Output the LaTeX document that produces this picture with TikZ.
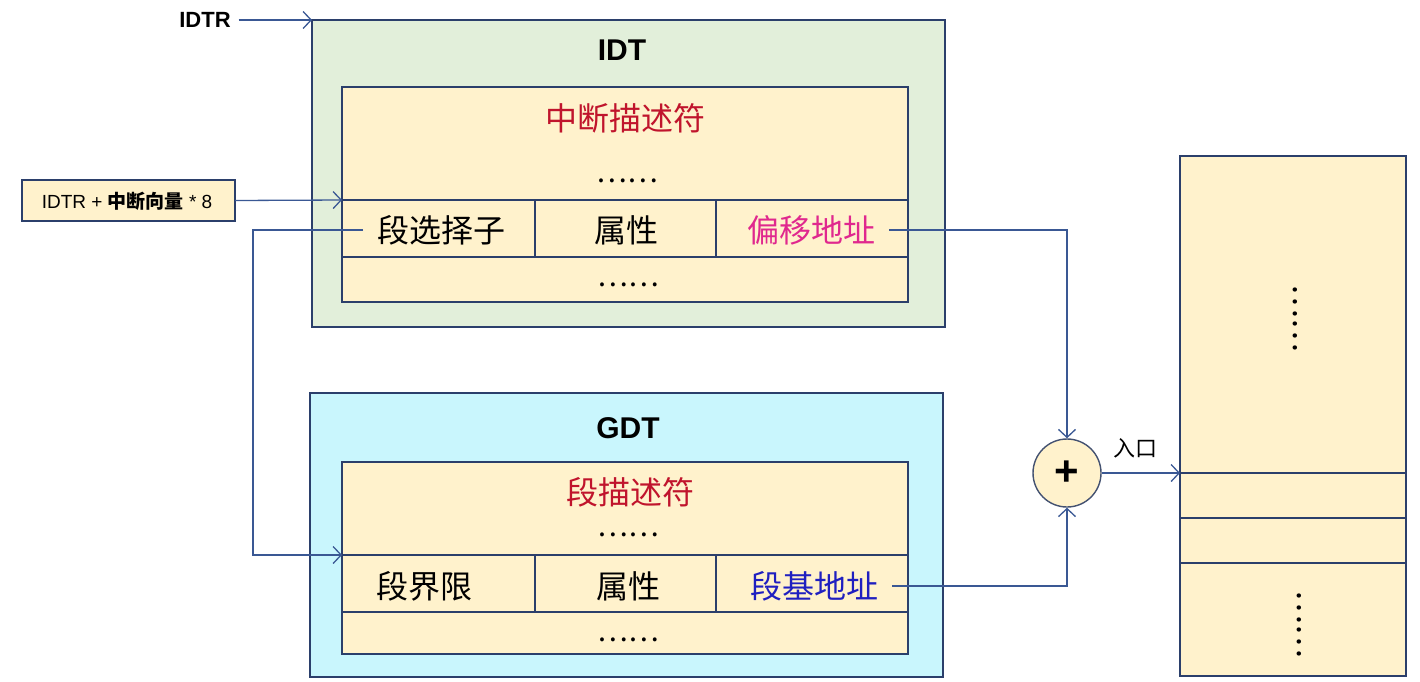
\documentclass[tikz,border=0pt]{standalone}
\usepackage{fontspec}
\setmainfont{Liberation Sans}
\newfontfamily\cjk{Noto Sans CJK SC}
\usetikzlibrary{arrows.meta}
\definecolor{bordc}{HTML}{2B3F6B}
\definecolor{linec}{HTML}{3A5894}
\definecolor{greenf}{HTML}{E2EFDA}
\definecolor{cyanf}{HTML}{C9F6FD}
\definecolor{yelf}{HTML}{FFF2CC}
\definecolor{redt}{HTML}{C0142C}
\definecolor{magt}{HTML}{E0288E}
\definecolor{bluet}{HTML}{1F1FC0}
\begin{document}
\begin{tikzpicture}[x=1pt,y=-1pt,
  box/.style={draw=bordc,line width=1.5pt,inner sep=0pt,outer sep=0pt,anchor=north west},
  arr/.style={draw=linec,line width=1.3pt,-{Straight Barb[length=8pt,width=17pt,line width=1.3pt]}},
  cn/.style={font=\cjk\fontsize{32}{36}\selectfont,inner sep=0pt,outer sep=8pt},
  dots/.style={font=\cjk\fontsize{29}{32}\selectfont,inner sep=0pt},
  title/.style={font=\bfseries\fontsize{30}{34}\selectfont,inner sep=0pt}]
\useasboundingbox (0,0) rectangle (1420,681);
\fill[white] (0,0) rectangle (1420,681);
% IDT
\node[box,fill=greenf,minimum width=633pt,minimum height=307pt] (idt) at (312,20) {};
\node[title] (idtt) at (622,50) {IDT};
\node[box,fill=yelf,minimum width=566pt,minimum height=215pt] (idtin) at (342,87) {};
\node[box,minimum width=193pt,minimum height=57pt] (c1) at (342,200) {};
\node[box,minimum width=181pt,minimum height=57pt] (c2) at (535,200) {};
\node[box,minimum width=192pt,minimum height=57pt] (c3) at (716,200) {};
\node[cn,text=redt] (intd) at (625,118) {中断描述符};
\node[dots] (d1) at (627,181) {……};
\node[cn,outer sep=14pt] (sel) at (441,230) {段选择子};
\node[cn] (attr1) at (626,230) {属性};
\node[cn,text=magt,outer sep=14pt] (off) at (811,230) {偏移地址};
\node[dots] (d2) at (628,285) {……};
% GDT
\node[box,fill=cyanf,minimum width=633pt,minimum height=284pt] (gdt) at (310,393) {};
\node[title] (gdtt) at (628,428) {GDT};
\node[box,fill=yelf,minimum width=566pt,minimum height=192pt] (gin) at (342,462) {};
\node[box,minimum width=193pt,minimum height=57pt] (g1) at (342,555) {};
\node[box,minimum width=181pt,minimum height=57pt] (g2) at (535,555) {};
\node[box,minimum width=192pt,minimum height=57pt] (g3) at (716,555) {};
\node[cn,text=redt] (segd) at (630,492) {段描述符};
\node[dots] (d3) at (628,535) {……};
\node[cn] (lim) at (424,586) {段界限};
\node[cn] (attr2) at (628,586) {属性};
\node[cn,text=bluet,outer sep=14pt] (base) at (814,586) {段基地址};
\node[dots] (d4) at (628,640) {……};
% labels left
\node[font=\bfseries\fontsize{22}{26}\selectfont,inner sep=0pt,outer sep=8pt] (idtr) at (205,20) {IDTR};
\node[box,fill=yelf,minimum width=213pt,minimum height=41pt] (formula) at (22,180) {};
\node[inner sep=0pt,font=\fontsize{19}{22}\selectfont] (ftext) at (127,201) {IDTR + {\cjk\bfseries 中断向量} * 8};
% plus
\node[circle,draw=bordc!70!gray,line width=1.4pt,fill=yelf,minimum size=68pt,inner sep=0pt,
      font=\bfseries\fontsize{42}{42}\selectfont] (plus) at (1067,473) {+};
% memory
\node[box,fill=yelf,minimum width=226pt,minimum height=317pt] (m1) at (1180,156) {};
\node[box,fill=yelf,minimum width=226pt,minimum height=45pt] (m2) at (1180,473) {};
\node[box,fill=yelf,minimum width=226pt,minimum height=45pt] (m3) at (1180,518) {};
\node[box,fill=yelf,minimum width=226pt,minimum height=113pt] (m4) at (1180,563) {};
\node[dots,rotate=-90,font=\cjk\fontsize{32}{32}\selectfont] (v1) at (1295,318) {……};
\node[dots,rotate=-90,font=\cjk\fontsize{32}{32}\selectfont] (v2) at (1299,624) {……};
\node[font=\cjk\fontsize{22}{26}\selectfont,inner sep=0pt] (entry) at (1135,448) {入口};
% connectors
\coordinate (turnL) at (253,0);
\draw[arr] (idtr.east) -- (idt.north west);
\draw[arr] (formula.east) -- (c1.north west);
\draw[arr] (sel.west) -- (sel.west -| turnL) |- (g1.north west);
\draw[arr] (off.east) -| (plus.north);
\draw[arr] (base.east) -| (plus.south);
\draw[arr] (plus.east) -- (m2.north west);
\end{tikzpicture}
\end{document}
